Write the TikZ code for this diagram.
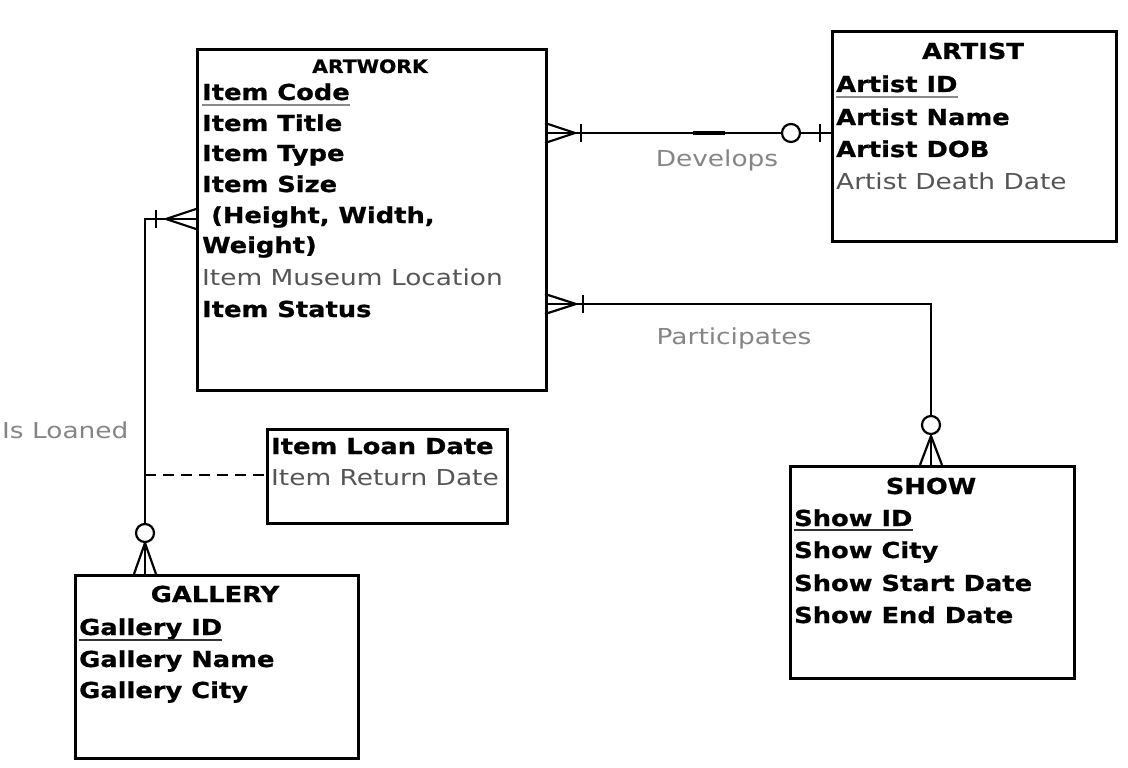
\documentclass[tikz,border=0pt]{standalone}
\usepackage{fontspec}
\setmainfont{DejaVu Sans}[UprightFeatures={FakeStretch=1.2}, BoldFeatures={FakeStretch=1.17, FakeBold=0.8}]
\newfontfamily\awtitlefont{DejaVu Sans Bold}[FakeStretch=1.1, FakeBold=0.6]
\definecolor{attrgray}{HTML}{555555}
\definecolor{lblgray}{HTML}{858585}
\definecolor{ulgray}{HTML}{8A8A8A}
\definecolor{uldark}{HTML}{333333}
\newcommand{\attrfont}{\fontsize{22}{26}\selectfont}
\tikzset{
  ent/.style={draw, line width=2.8pt, inner sep=0pt, anchor=north west},
  ttl/.style={anchor=base, inner sep=0pt, font=\attrfont\bfseries},
  att/.style={anchor=base west, inner sep=0pt, font=\attrfont\bfseries},
  attl/.style={anchor=base west, inner sep=0pt, font=\attrfont, text=attrgray},
  lbl/.style={inner sep=0pt, font=\attrfont, text=lblgray},
  conn/.style={line width=2.3pt},
  cmark/.style={line width=2.2pt},
  ring/.style={line width=2.2pt, fill=white},
  ul/.style={line width=2.4pt, color=#1},
}
\begin{document}
\begin{tikzpicture}[x=1pt,y=-1pt]
\useasboundingbox (0,0) rectangle (1128,768);

% ---------- entities ----------
\node[ent, minimum width=349pt, minimum height=341pt] (artwork) at (196,48) {};
\node[ent, minimum width=284pt, minimum height=210pt] (artist) at (831,30) {};
\node[ent, minimum width=284pt, minimum height=212pt] (show) at (789,465) {};
\node[ent, minimum width=283pt, minimum height=183pt] (gallery) at (74,574) {};
\node[ent, minimum width=240pt, minimum height=94pt] (loan) at (266,428) {};

% ARTWORK
\node[ttl, font=\awtitlefont\fontsize{18.5}{22}\selectfont] (awt) at (370,73) {ARTWORK};
\node[att] (icode) at (202,100) {Item Code};
\node[att] (ititle) at (202,131) {Item Title};
\node[att] (itype) at (202,161) {Item Type};
\node[att] (isize) at (202,192) {Item Size};
\node[att] (ihw) at (202,223) {~(Height, Width,};
\node[att] (iw) at (202,253) {Weight)};
\node[attl] (iloc) at (202,285) {Item Museum Location};
\node[att] (istat) at (202,317) {Item Status};
\draw[ul=ulgray] ([yshift=-5pt]icode.base west) -- ([yshift=-5pt]icode.base east);

% ARTIST
\node[ttl] (art) at (973,59) {ARTIST};
\node[att] (aid) at (836,92) {Artist ID};
\node[att] (aname) at (836,125) {Artist Name};
\node[att] (adob) at (836,157) {Artist DOB};
\node[attl] (adeath) at (836,189) {Artist Death Date};
\draw[ul=ulgray] ([yshift=-5pt]aid.base west) -- ([yshift=-5pt]aid.base east);

% SHOW
\node[ttl] (sht) at (931,494) {SHOW};
\node[att] (sid) at (794,526) {Show ID};
\node[att] (scity) at (794,558) {Show City};
\node[att] (sstart) at (794,591) {Show Start Date};
\node[att] (send) at (794,623) {Show End Date};
\draw[ul=uldark] ([yshift=-4pt]sid.base west) -- ([yshift=-4pt]sid.base east);

% GALLERY
\node[ttl] (gt) at (215,602) {GALLERY};
\node[att] (gid) at (79,635) {Gallery ID};
\node[att] (gname) at (79,667) {Gallery Name};
\node[att] (gcity) at (79,698) {Gallery City};
\draw[ul=uldark] ([yshift=-5pt]gid.base west) -- ([yshift=-5pt]gid.base east);

% Loan attributes
\node[att] (ldate) at (271,454) {Item Loan Date};
\node[attl] (rdate) at (271,485) {Item Return Date};

% ---------- relationship labels ----------
\node[lbl, anchor=base] (ldev) at (717,166) {Develops};
\node[lbl, anchor=base] (lpart) at (734,344) {Participates};
\node[lbl, anchor=base west] (lloan) at (2,438) {Is Loaned};

% ---------- Develops ----------
\coordinate (devy) at (0,133);
\draw[conn] (artwork.east |- devy) -- (artist.west |- devy);
\draw[line width=3.6pt] (693,133) -- (725,133);
\draw[cmark] (545,123) -- (575,133) -- (545,143);
\draw[cmark] (581,124) -- (581,142);
\draw[cmark] (820,124) -- (820,142);
\draw[ring] (791,133) circle (9);

% ---------- Participates ----------
\coordinate (party) at (0,304);
\coordinate (pcorner) at (931,304);
\draw[conn] (artwork.east |- party) -- (pcorner) -- (pcorner |- show.north);
\draw[cmark] (545,294) -- (576,304) -- (545,314);
\draw[cmark] (583,295) -- (583,313);
\draw[cmark] (920,465) -- (931,436) -- (942,465);
\draw[ring] (931,425) circle (9);

% ---------- Is Loaned ----------
\coordinate (loany) at (0,219);
\coordinate (lcorner) at (145,219);
\draw[conn] (artwork.west |- loany) -- (lcorner) -- (lcorner |- gallery.north);
\draw[cmark] (196,209) -- (166,219) -- (196,229);
\draw[cmark] (156,210) -- (156,228);
\draw[cmark] (134,574) -- (145,543) -- (156,574);
\draw[ring] (145,533) circle (9);
\coordinate (dashy) at (145,475);
\draw[conn, dash pattern=on 11pt off 7pt] (dashy) -- (loan.west |- dashy);
\end{tikzpicture}
\end{document}
